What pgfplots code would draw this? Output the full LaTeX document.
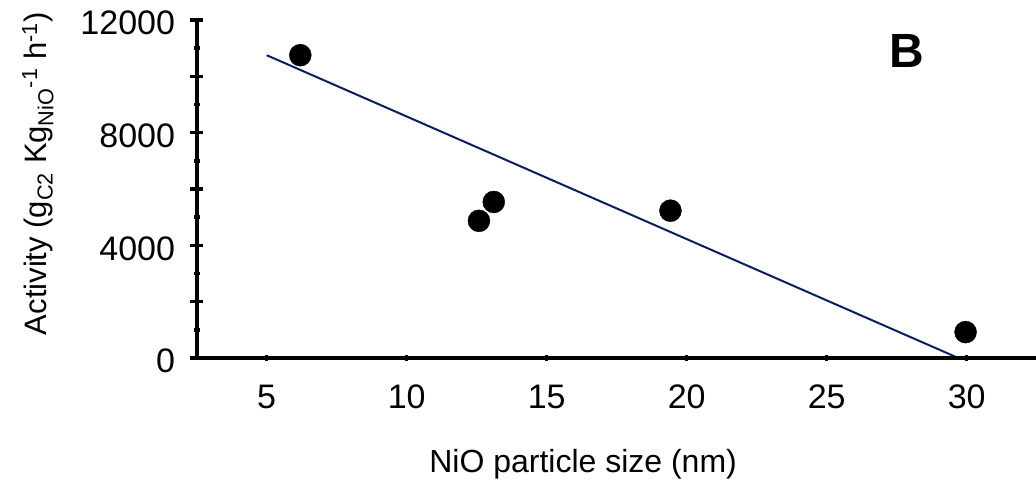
\documentclass[border=0pt]{standalone}
\usepackage{fontspec}
\setmainfont{Liberation Sans}
\usepackage{pgfplots}
\pgfplotsset{compat=1.18}
\definecolor{fitnavy}{HTML}{0B1F5E}
\begin{document}
\begin{tikzpicture}
\pgfplotsset{
  base/.style={
    scale only axis, width=840pt, height=338pt,
    xmin=2.5, xmax=32.5, ymin=0, ymax=12000,
    clip=false,
    tick align=outside,
    /pgf/number format/assume math mode=true,
    /pgf/number format/1000 sep={},
    scaled ticks=false,
    tick label style={font=\fontsize{34}{40}\selectfont},
    label style={font=\fontsize{34}{40}\selectfont},
    tick style={black, line width=3.5pt},
  }
}
\begin{axis}[base,
  axis x line=none, axis y line=left,
  y axis line style={-, line width=4pt},
  ytick={0,2000,...,12000}, yticklabels={0,,4000,,8000,,12000},
  minor y tick num=1,
  major tick length=13pt, minor tick length=6pt,
  yticklabel style={anchor=east, inner sep=0pt, xshift=-15pt, yshift=-3pt},
  ylabel={Activity (g\textsubscript{C2} Kg\textsubscript{NiO}\textsuperscript{-1} h\textsuperscript{-1})},
  every axis y label/.style={at={(axis description cs:-0.208,0.545)}, rotate=90, anchor=north, inner sep=0pt, font=\fontsize{31}{37}\selectfont},
]
\addplot[fitnavy, line width=2pt] coordinates {(5,10750) (29.7,0)};
\addplot[only marks, mark=*, mark size=11pt, black] coordinates {
(6.2,10750) (12.58,4870) (13.11,5540) (19.42,5230) (29.96,920)};
\node[anchor=base west, inner sep=0pt, font=\bfseries\fontsize{48}{56}\selectfont] at (axis cs:27.22,10330) {B};
\end{axis}
\begin{axis}[base,
  axis y line=none, axis x line=bottom,
  x axis line style={-, line width=4pt},
  xtick={5,10,...,30}, minor x tick num=1,
  major tick length=6pt, minor tick length=3pt,
  xticklabel style={anchor=north, inner sep=0pt, yshift=-24pt},
  xlabel={NiO particle size (nm)},
  every axis x label/.style={at={(axis description cs:0.46,-0.34)}, anchor=base, inner sep=0pt, font=\fontsize{32}{38}\selectfont},
]
\end{axis}
\pgfresetboundingbox
\path (-196.7pt,-129pt) rectangle (839.3pt,358pt);
\end{tikzpicture}
\end{document}
